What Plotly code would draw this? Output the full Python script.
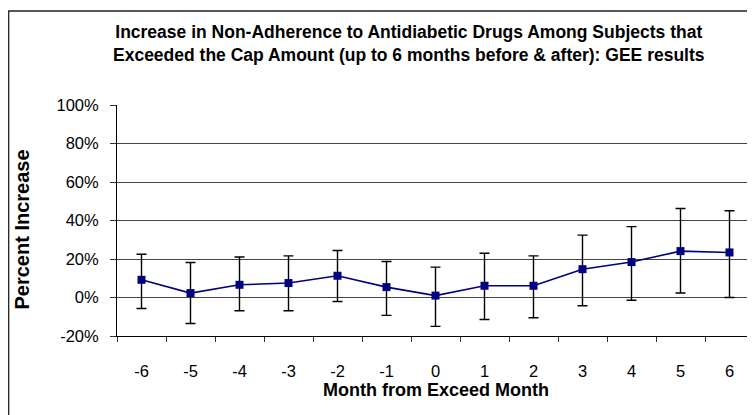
import plotly.graph_objects as go

months = ["-6", "-5", "-4", "-3", "-2", "-1", "0", "1", "2", "3", "4", "5", "6"]
pct_increase = [9.2, 2.3, 6.6, 7.5, 11.3, 5.4, 1.0, 6.1, 6.1, 14.7, 18.4, 24.1, 23.4]
upper_ci = [22.5, 18.2, 21.0, 21.6, 24.4, 18.7, 15.8, 23.0, 21.6, 32.4, 36.8, 46.2, 45.1]
lower_ci = [-5.7, -13.5, -6.9, -6.9, -2.1, -9.3, -15.0, -11.4, -10.5, -4.3, -1.4, 2.3, 0.0]
y_ticks = [-20, 0, 20, 40, 60, 80, 100]
y_tick_labels = ["-20%", "0%", "20%", "40%", "60%", "80%", "100%"]

err_plus = [u - v for u, v in zip(upper_ci, pct_increase)]
err_minus = [v - l for v, l in zip(pct_increase, lower_ci)]

FONT = "Liberation Sans, Arial, sans-serif"
NAVY = "#000080"

W, H = 747, 407
L, R, T, B = 109, 1, 97, 79
PW, PH = W - L - R, H - T - B

fig = go.Figure()
fig.add_trace(go.Scatter(
    x=months, y=pct_increase, mode="lines+markers",
    line=dict(color=NAVY, width=1.6),
    marker=dict(symbol="square", size=8, color=NAVY),
    error_y=dict(type="data", symmetric=False, array=err_plus, arrayminus=err_minus,
                 color="black", thickness=1.4, width=5),
    showlegend=False, hoverinfo="x+y",
))

fig.update_layout(
    width=W, height=H,
    margin=dict(l=L, r=R, t=T, b=B),
    paper_bgcolor="white", plot_bgcolor="white",
    font=dict(family=FONT, color="black"),
    showlegend=False,
)

fig.update_xaxes(
    type="category", range=[-0.5, len(months) - 0.5],
    tickson="boundaries", ticks="outside", ticklen=5,
    tickcolor="#333", tickwidth=1,
    showline=True, linecolor="black", linewidth=1,
    showgrid=False, zeroline=False,
    tickfont=dict(size=16.5, family=FONT, color="black"),
    ticklabelstandoff=20,
)
fig.update_yaxes(
    range=[-20, 100], tickvals=y_ticks, ticktext=y_tick_labels,
    ticks="outside", ticklen=6, tickcolor="#333", tickwidth=1,
    showline=True, linecolor="black", linewidth=1,
    showgrid=True, gridcolor="#444", gridwidth=1,
    zeroline=False,
    tickfont=dict(size=16.5, family=FONT, color="black"),
    ticklabelstandoff=8,
)

# outer chart frame (extends beyond right/bottom edges)
fig.add_shape(type="rect", xref="paper", yref="paper",
              x0=(0.7 - L) / PW, x1=1.2, y0=-0.6, y1=1 + (T - 3) / PH,
              line=dict(color="#222", width=1.3), fillcolor="rgba(0,0,0,0)", layer="below")

fig.add_annotation(
    xref="paper", yref="paper", x=(401 - L) / PW, y=1 + (T - 35) / PH,
    xanchor="center", yanchor="middle", showarrow=False,
    text="<b>Increase in Non-Adherence to Antidiabetic Drugs Among Subjects that<br>"
         "Exceeded the Cap Amount (up to 6 months before &amp; after): GEE results</b>",
    font=dict(size=17.5, family=FONT, color="black"),
)
fig.add_annotation(
    xref="paper", yref="paper", x=0.5, y=-(381.5 - (T + PH)) / PH,
    xanchor="center", yanchor="middle", showarrow=False,
    text="<b>Month from Exceed Month</b>",
    font=dict(size=18, family=FONT, color="black"),
)
fig.add_annotation(
    xref="paper", yref="paper", x=(13.5 - L) / PW, y=((T + PH) - 222) / PH,
    xanchor="center", yanchor="middle", showarrow=False, textangle=-90,
    text="<b>Percent Increase</b>",
    font=dict(size=20, family=FONT, color="black"),
)

fig.write_html("out.html")
